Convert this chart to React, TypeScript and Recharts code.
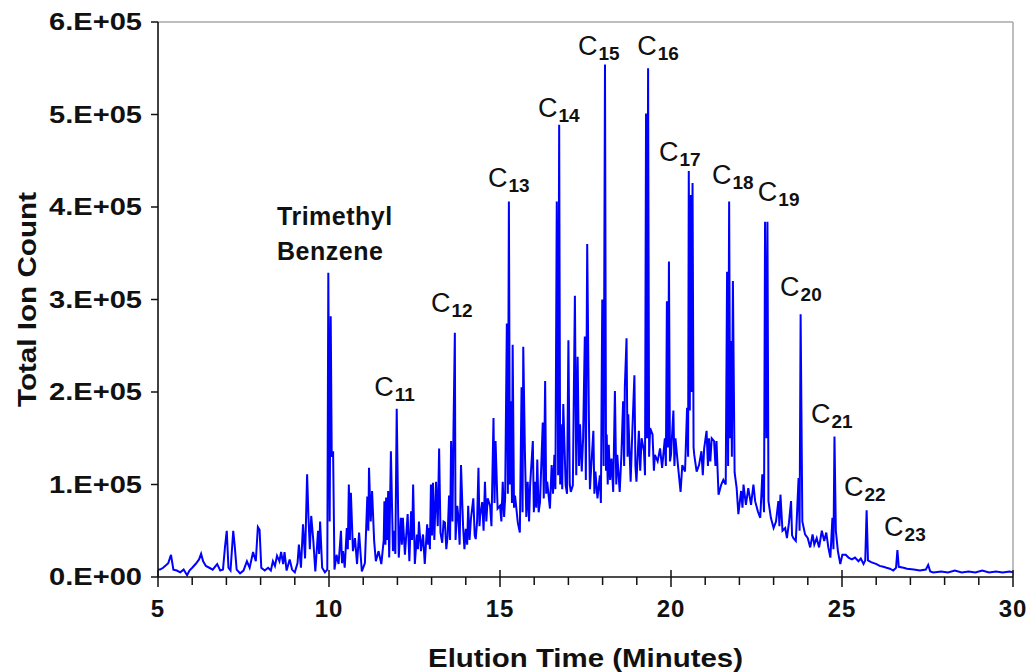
import { LineChart, Line, XAxis, YAxis, ReferenceLine, ReferenceDot } from 'recharts';

// Total ion count, [elution time (min), count]
const scanEarly = [
    [5.0, 8000], [5.06, 8000], [5.15, 10000], [5.3, 15000], [5.38, 24000], [5.45, 8000],
    [5.55, 7000], [5.65, 5000], [5.75, 8000], [5.85, 2000], [5.92, 7000], [6.0, 10000],
    [6.1, 14000], [6.2, 19000], [6.26, 25000], [6.32, 17000], [6.4, 12000], [6.5, 10000],
    [6.6, 8000], [6.73, 14000], [6.82, 7000], [6.9, 8000], [6.96, 33000], [7.01, 50000],
    [7.06, 10000], [7.12, 7000], [7.2, 50000], [7.24, 35000], [7.3, 8000], [7.4, 4000],
    [7.5, 7000], [7.6, 17000], [7.68, 10000], [7.78, 27000], [7.86, 17000], [7.92, 54000],
    [7.97, 51000], [8.02, 10000], [8.12, 7000], [8.22, 10000], [8.3, 7000], [8.36, 17000],
    [8.42, 12000], [8.48, 23000], [8.55, 17000], [8.6, 27000], [8.66, 14000], [8.7, 27000],
    [8.76, 7000], [8.85, 19000], [8.92, 8000], [9.0, 5000], [9.08, 15000], [9.12, 35000],
    [9.18, 10000], [9.24, 57000], [9.3, 20000], [9.36, 111000], [9.4, 64000], [9.44, 30000],
    [9.48, 66000], [9.54, 40000], [9.6, 6000], [9.68, 50000], [9.71, 25000], [9.74, 60000],
    [9.8, 10000], [9.88, 5000], [9.95, 8000],
];

const scanAromatics = [
    [9.98, 329000], [10.02, 60000], [10.05, 282000], [10.08, 130000], [10.12, 136000], [10.16, 8000],
    [10.22, 24000], [10.28, 14000], [10.35, 50000], [10.38, 15000], [10.41, 28000], [10.46, 10000],
    [10.52, 53000], [10.55, 30000], [10.58, 100000], [10.61, 40000], [10.64, 91000], [10.7, 28000],
    [10.76, 42000], [10.82, 14000], [10.88, 48000], [10.96, 6000], [11.05, 15000], [11.12, 87000],
    [11.15, 50000], [11.17, 118000], [11.22, 60000], [11.26, 93000], [11.32, 39000], [11.37, 17000],
    [11.45, 28000], [11.53, 14000], [11.6, 40000], [11.62, 82000], [11.65, 35000], [11.67, 86000],
    [11.7, 40000], [11.73, 93000], [11.76, 21000], [11.81, 136000], [11.87, 28000], [11.9, 50000],
    [11.94, 25000], [11.98, 182000], [12.04, 21000], [12.1, 64000], [12.13, 35000], [12.16, 64000],
    [12.22, 24000], [12.3, 68000], [12.35, 17000], [12.4, 71000], [12.43, 40000], [12.46, 100000],
    [12.51, 14000], [12.57, 46000], [12.6, 30000], [12.63, 60000], [12.69, 28000], [12.75, 46000],
    [12.8, 14000], [12.87, 57000], [12.9, 35000], [12.92, 53000], [12.95, 30000], [12.98, 100000],
    [13.01, 45000], [13.04, 102000], [13.08, 40000],
];

const scanMid = [
    [13.13, 103000], [13.18, 55000], [13.22, 139000], [13.26, 48000], [13.31, 37000], [13.35, 60000],
    [13.39, 59000], [13.43, 30000], [13.47, 45000], [13.51, 88000], [13.54, 40000], [13.57, 147000],
    [13.61, 60000], [13.64, 160000], [13.68, 264000], [13.7, 40000], [13.75, 77000], [13.78, 66000],
    [13.82, 35000], [13.86, 121000], [13.92, 55000], [13.96, 30000], [14.0, 52000], [14.04, 35000],
    [14.07, 77000], [14.11, 40000], [14.15, 63000], [14.22, 85000], [14.26, 45000], [14.29, 41000],
    [14.33, 60000], [14.37, 118000], [14.4, 55000], [14.42, 66000], [14.48, 81000], [14.52, 50000],
    [14.56, 103000], [14.6, 60000], [14.64, 85000], [14.71, 77000], [14.75, 55000], [14.81, 172000],
    [14.84, 80000], [14.87, 147000], [14.93, 74000], [15.0, 77000], [15.04, 60000], [15.08, 103000],
    [15.12, 65000], [15.15, 85000], [15.2, 274000], [15.23, 90000], [15.26, 406000], [15.29, 100000],
    [15.32, 190000], [15.35, 80000], [15.37, 251000], [15.41, 75000], [15.44, 88000], [15.52, 59000],
    [15.58, 48000], [15.63, 205000], [15.66, 70000], [15.68, 249000], [15.73, 132000], [15.77, 65000],
    [15.81, 103000], [15.85, 60000], [15.88, 99000], [15.96, 147000], [15.99, 70000], [16.02, 103000],
    [16.06, 75000], [16.09, 127000], [16.13, 70000], [16.17, 81000], [16.25, 167000], [16.28, 85000],
    [16.32, 212000], [16.35, 90000], [16.38, 103000], [16.46, 74000], [16.51, 121000], [16.55, 90000],
    [16.59, 132000], [16.62, 95000], [16.66, 406000], [16.7, 110000], [16.73, 489000], [16.76, 100000],
    [16.78, 165000], [16.82, 95000], [16.85, 187000], [16.92, 99000], [16.96, 90000], [17.0, 256000],
    [17.04, 100000], [17.07, 92000], [17.13, 99000],
];

const scanHump = [
    [17.19, 304000], [17.23, 110000], [17.27, 238000], [17.31, 120000], [17.34, 165000], [17.39, 114000],
    [17.43, 150000], [17.48, 260000], [17.51, 105000], [17.55, 360000], [17.6, 169000], [17.63, 95000],
    [17.66, 114000], [17.73, 158000], [17.76, 90000], [17.79, 114000], [17.85, 85000], [17.92, 110000],
    [17.95, 80000], [17.99, 300000], [18.03, 120000], [18.07, 554000], [18.1, 115000], [18.12, 154000],
    [18.15, 100000], [18.18, 143000], [18.22, 105000], [18.26, 128000], [18.31, 92000], [18.36, 201000],
    [18.4, 100000], [18.43, 132000], [18.5, 92000], [18.55, 132000], [18.6, 190000], [18.63, 120000],
    [18.65, 205000], [18.7, 258000], [18.73, 130000], [18.75, 176000], [18.82, 103000], [18.87, 158000],
    [18.93, 218000], [18.96, 120000], [18.99, 103000], [19.06, 158000], [19.1, 115000], [19.14, 150000],
    [19.21, 136000], [19.24, 110000], [19.27, 501000], [19.3, 150000], [19.33, 550000], [19.36, 130000],
    [19.39, 161000], [19.46, 154000], [19.5, 115000], [19.53, 132000], [19.61, 125000], [19.68, 139000],
    [19.74, 118000], [19.82, 150000], [19.85, 120000], [19.88, 298000], [19.91, 140000], [19.94, 341000],
    [19.97, 125000], [20.0, 132000], [20.07, 180000], [20.1, 120000], [20.13, 150000], [20.21, 118000],
    [20.28, 92000], [20.33, 121000], [20.41, 114000], [20.47, 183000], [20.5, 130000], [20.52, 439000],
    [20.55, 180000], [20.57, 413000], [20.6, 200000], [20.63, 426000], [20.66, 140000], [20.68, 132000],
    [20.75, 114000], [20.82, 121000], [20.89, 136000], [20.93, 110000], [20.97, 139000],
];

const scanLate = [
    [21.04, 158000], [21.08, 120000], [21.11, 150000], [21.15, 125000], [21.19, 150000], [21.26, 147000],
    [21.3, 120000], [21.33, 147000], [21.39, 89000], [21.47, 100000], [21.53, 105000], [21.6, 100000],
    [21.64, 330000], [21.67, 120000], [21.7, 406000], [21.73, 150000], [21.75, 255000], [21.78, 130000],
    [21.81, 320000], [21.86, 113000], [21.92, 96000], [21.97, 68000], [22.05, 93000], [22.09, 75000],
    [22.12, 100000], [22.19, 78000], [22.26, 96000], [22.34, 78000], [22.41, 100000], [22.46, 82000],
    [22.54, 71000], [22.61, 64000], [22.67, 111000], [22.72, 70000], [22.75, 384000], [22.79, 150000],
    [22.82, 384000], [22.85, 82000], [22.92, 64000], [23.0, 53000], [23.07, 60000], [23.14, 82000],
    [23.17, 55000], [23.2, 89000], [23.26, 50000], [23.34, 53000], [23.39, 42000], [23.45, 59000],
    [23.51, 82000], [23.54, 45000], [23.58, 42000], [23.65, 39000], [23.73, 107000], [23.76, 50000],
    [23.79, 284000], [23.84, 60000], [23.92, 46000], [24.0, 42000], [24.07, 32000], [24.14, 46000],
    [24.19, 35000], [24.26, 42000], [24.33, 32000], [24.41, 50000], [24.48, 39000], [24.54, 48000],
    [24.6, 32000], [24.66, 21000], [24.72, 64000], [24.75, 30000], [24.78, 152000], [24.82, 50000],
    [24.88, 28000], [24.95, 14000], [25.01, 24000], [25.11, 24000], [25.19, 21000], [25.29, 19000],
    [25.38, 21000], [25.48, 17000], [25.55, 20000], [25.63, 14000], [25.68, 18000], [25.72, 72000],
    [25.76, 18000], [25.85, 16000], [26.01, 14000], [26.1, 12000], [26.21, 11000], [26.3, 10000],
    [26.4, 9000], [26.5, 7000], [26.58, 10000], [26.62, 29000], [26.66, 11000], [26.8, 10000],
    [26.9, 9000], [27.1, 8000], [27.28, 7000], [27.45, 8000], [27.52, 13000], [27.58, 6000],
    [27.67, 5000], [27.9, 6000], [28.1, 5000], [28.3, 7000], [28.5, 5000], [28.7, 6000],
    [28.9, 5000], [29.1, 7000], [29.3, 5000], [29.5, 6000], [29.7, 5000], [29.9, 6000], [30.0, 5000],
];

const chromatogram = [...scanEarly, ...scanAromatics, ...scanMid, ...scanHump, ...scanLate]
    .map(([time, count]) => ({ time, count }));

const xTicks = [5, 6, 7, 8, 9, 10, 11, 12, 13, 14, 15, 16, 17, 18, 19, 20, 21, 22, 23, 24, 25, 26, 27, 28, 29, 30];
const xLabelTicks = [5, 10, 15, 20, 25, 30];
const yTicks = [0, 100000, 200000, 300000, 400000, 500000, 600000];
const yTickLabels = ['0.E+00', '1.E+05', '2.E+05', '3.E+05', '4.E+05', '5.E+05', '6.E+05'];

// n-alkane peak labels, anchored at (time, count) of the "C"
const peakLabels = [
    { sub: '11', time: 11.32, count: 196000 },
    { sub: '12', time: 12.98, count: 287000 },
    { sub: '13', time: 14.65, count: 422000 },
    { sub: '14', time: 16.11, count: 497000 },
    { sub: '15', time: 17.28, count: 564000 },
    { sub: '16', time: 19.01, count: 564000 },
    { sub: '17', time: 19.65, count: 450000 },
    { sub: '18', time: 21.2, count: 425000 },
    { sub: '19', time: 22.54, count: 406000 },
    { sub: '20', time: 23.19, count: 304000 },
    { sub: '21', time: 24.09, count: 167000 },
    { sub: '22', time: 25.06, count: 88000 },
    { sub: '23', time: 26.23, count: 44000 },
];
const aromaticLabel = { lines: ['Trimethyl', 'Benzene'], time: 8.48, count: 381000 };

const FONT = '"Liberation Sans", Arial, sans-serif';

function XTick(props: any) {
    const { x, y, payload } = props;
    const major = xLabelTicks.includes(payload.value);
    return (
        <g>
            <line x1={x} x2={x} y1={major ? y - 7 : y} y2={y + (major ? 10 : 8)} stroke="#111" strokeWidth={1.5} />
            {major && (
                <text x={x} y={y + 40} textAnchor="middle" fontFamily={FONT} fontWeight="bold" fontSize={24} letterSpacing={1} fill="#111">
                    {payload.value}
                </text>
            )}
        </g>
    );
}

function YTick(props: any) {
    const { x, y, payload } = props;
    const label = yTickLabels[yTicks.indexOf(payload.value)];
    return (
        <g>
            <line x1={x - 7} x2={x} y1={y} y2={y} stroke="#111" strokeWidth={1.5} />
            <text x={x - 16} y={y} dy="0.35em" textAnchor="end" fontFamily={FONT} fontWeight="bold" fontSize={23}
                textLength={93} lengthAdjust="spacingAndGlyphs" fill="#111">
                {label}
            </text>
        </g>
    );
}

export default function App() {
    return (
        <div style={{ position: 'absolute', left: 0, top: 0, width: 1031, height: 672, background: '#fff' }}>
            <LineChart width={1031} height={672} data={chromatogram} margin={{ top: 22, right: 18, bottom: 0, left: 0 }}>
                <XAxis
                    dataKey="time"
                    type="number"
                    domain={[5, 30]}
                    ticks={xTicks}
                    interval={0}
                    tick={XTick}
                    tickSize={0}
                    tickMargin={0}
                    tickLine={false}
                    height={95}
                    axisLine={{ stroke: '#111', strokeWidth: 1.6 }}
                    label={(p: any) => (
                        <text x={p.viewBox.x + p.viewBox.width / 2} y={p.viewBox.y + 90} textAnchor="middle" fontFamily={FONT}
                            fontWeight="bold" fontSize={25} textLength={315} lengthAdjust="spacingAndGlyphs" fill="#111">
                            Elution Time (Minutes)
                        </text>
                    )}
                />
                <YAxis
                    type="number"
                    domain={[0, 600000]}
                    ticks={yTicks}
                    interval={0}
                    tick={YTick}
                    tickSize={0}
                    tickMargin={0}
                    tickLine={false}
                    width={158}
                    axisLine={{ stroke: '#111', strokeWidth: 1.6 }}
                    label={(p: any) => {
                        const cy = p.viewBox.y + p.viewBox.height / 2;
                        return (
                            <text x={27} y={cy} dy="0.35em" textAnchor="middle" transform={`rotate(-90, 27, ${cy})`} fontFamily={FONT}
                                fontWeight="bold" fontSize={25} textLength={215} lengthAdjust="spacingAndGlyphs" fill="#111">
                                Total Ion Count
                            </text>
                        );
                    }}
                />
                <ReferenceLine y={600000} stroke="#a8a8a8" strokeWidth={1.5} />
                <ReferenceLine x={30} stroke="#a8a8a8" strokeWidth={1.5} />
                <Line type="linear" dataKey="count" stroke="#0000FF" strokeWidth={2} dot={false} isAnimationActive={false} />
                {peakLabels.map((l) => (
                    <ReferenceDot
                        key={l.sub}
                        x={l.time}
                        y={l.count}
                        r={0}
                        ifOverflow="visible"
                        shape={(p: any) => (
                            <text x={p.cx} y={p.cy} fontFamily={FONT} fill="#111">
                                <tspan fontSize={27}>C</tspan>
                                <tspan fontSize={19} fontWeight="bold" dx={1} dy={5}>{l.sub}</tspan>
                            </text>
                        )}
                    />
                ))}
                <ReferenceDot
                    x={aromaticLabel.time}
                    y={aromaticLabel.count}
                    r={0}
                    ifOverflow="visible"
                    shape={(p: any) => (
                        <text x={p.cx} y={p.cy} fontFamily={FONT} fontWeight="bold" fontSize={25} letterSpacing={0.5} fill="#111">
                            {aromaticLabel.lines.map((s, i) => (
                                <tspan key={s} x={p.cx} dy={i === 0 ? 0 : 35}>{s}</tspan>
                            ))}
                        </text>
                    )}
                />
            </LineChart>
        </div>
    );
}
